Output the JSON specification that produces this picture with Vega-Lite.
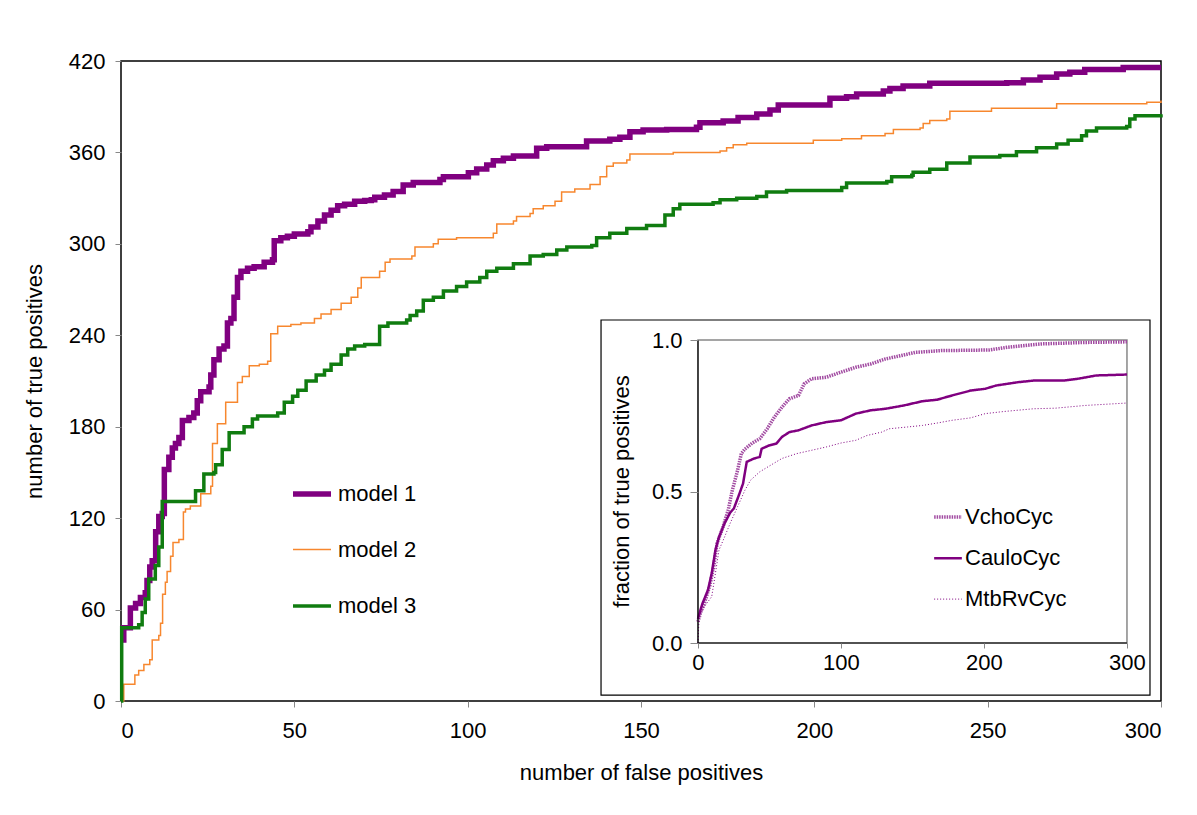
{
  "$schema": "https://vega.github.io/schema/vega-lite/v6.json",
  "width": 1040,
  "height": 640,
  "autosize": {"type": "none"},
  "padding": {"left": 121, "top": 61, "right": 36, "bottom": 114},
  "background": "white",
  "config": {
    "font": "Liberation Sans",
    "view": {"stroke": "black", "strokeWidth": 1.5},
    "axis": {"labelFontSize": 22, "titleFontSize": 22, "labelColor": "black", "titleColor": "black", "titleFontWeight": "normal", "tickColor": "#888", "grid": false, "domain": false, "labelFont": "Liberation Sans", "titleFont": "Liberation Sans"},
    "legend": {"labelFontSize": 22, "labelColor": "black", "labelFont": "Liberation Sans", "padding": 0, "labelLimit": 400}
  },
  "datasets": {
    "main": [
      {"model": "model 1", "fp": 0, "tp": 40}, {"model": "model 1", "fp": 0.8, "tp": 48}, {"model": "model 1", "fp": 2.7, "tp": 61}, {"model": "model 1", "fp": 4.2, "tp": 64}, {"model": "model 1", "fp": 5.6, "tp": 68}, {"model": "model 1", "fp": 7, "tp": 71}, {"model": "model 1", "fp": 7.5, "tp": 79}, {"model": "model 1", "fp": 8.3, "tp": 88}, {"model": "model 1", "fp": 9, "tp": 92}, {"model": "model 1", "fp": 10, "tp": 111}, {"model": "model 1", "fp": 10.9, "tp": 121}, {"model": "model 1", "fp": 11.9, "tp": 123}, {"model": "model 1", "fp": 12.5, "tp": 152}, {"model": "model 1", "fp": 13.8, "tp": 160}, {"model": "model 1", "fp": 14.8, "tp": 166}, {"model": "model 1", "fp": 15.7, "tp": 169}, {"model": "model 1", "fp": 16.7, "tp": 173}, {"model": "model 1", "fp": 17.7, "tp": 184}, {"model": "model 1", "fp": 19.6, "tp": 186}, {"model": "model 1", "fp": 21, "tp": 189}, {"model": "model 1", "fp": 22, "tp": 197}, {"model": "model 1", "fp": 23, "tp": 203}, {"model": "model 1", "fp": 25.4, "tp": 206}, {"model": "model 1", "fp": 25.9, "tp": 214}, {"model": "model 1", "fp": 26.8, "tp": 224}, {"model": "model 1", "fp": 28.3, "tp": 231}, {"model": "model 1", "fp": 29.7, "tp": 233}, {"model": "model 1", "fp": 30.7, "tp": 248}, {"model": "model 1", "fp": 31.7, "tp": 251}, {"model": "model 1", "fp": 32.6, "tp": 265}, {"model": "model 1", "fp": 33.6, "tp": 278}, {"model": "model 1", "fp": 34.6, "tp": 282}, {"model": "model 1", "fp": 36.5, "tp": 284}, {"model": "model 1", "fp": 38.4, "tp": 285}, {"model": "model 1", "fp": 41.3, "tp": 288}, {"model": "model 1", "fp": 43.7, "tp": 289.5}, {"model": "model 1", "fp": 44.2, "tp": 302}, {"model": "model 1", "fp": 46.1, "tp": 304}, {"model": "model 1", "fp": 48, "tp": 305}, {"model": "model 1", "fp": 50, "tp": 306.5}, {"model": "model 1", "fp": 53.9, "tp": 308}, {"model": "model 1", "fp": 54.8, "tp": 311}, {"model": "model 1", "fp": 56.8, "tp": 315}, {"model": "model 1", "fp": 58.7, "tp": 319}, {"model": "model 1", "fp": 60.6, "tp": 322}, {"model": "model 1", "fp": 62.5, "tp": 325}, {"model": "model 1", "fp": 64.5, "tp": 326}, {"model": "model 1", "fp": 67.4, "tp": 328}, {"model": "model 1", "fp": 70.3, "tp": 328.5}, {"model": "model 1", "fp": 72.2, "tp": 329}, {"model": "model 1", "fp": 73.2, "tp": 330.6}, {"model": "model 1", "fp": 76, "tp": 332}, {"model": "model 1", "fp": 78.5, "tp": 334.3}, {"model": "model 1", "fp": 81.4, "tp": 338.6}, {"model": "model 1", "fp": 84.3, "tp": 340.2}, {"model": "model 1", "fp": 92, "tp": 342.3}, {"model": "model 1", "fp": 93, "tp": 344}, {"model": "model 1", "fp": 100.2, "tp": 346.7}, {"model": "model 1", "fp": 102.6, "tp": 349.1}, {"model": "model 1", "fp": 105.5, "tp": 351.8}, {"model": "model 1", "fp": 107.4, "tp": 354.6}, {"model": "model 1", "fp": 110.3, "tp": 356.1}, {"model": "model 1", "fp": 113.2, "tp": 357.7}, {"model": "model 1", "fp": 119.9, "tp": 362.7}, {"model": "model 1", "fp": 122.8, "tp": 363.8}, {"model": "model 1", "fp": 134.3, "tp": 367.5}, {"model": "model 1", "fp": 141, "tp": 368.6}, {"model": "model 1", "fp": 143.9, "tp": 369.9}, {"model": "model 1", "fp": 146.8, "tp": 373.6}, {"model": "model 1", "fp": 150.6, "tp": 374.7}, {"model": "model 1", "fp": 157.4, "tp": 375.1}, {"model": "model 1", "fp": 166, "tp": 376.5}, {"model": "model 1", "fp": 167, "tp": 379.5}, {"model": "model 1", "fp": 173.7, "tp": 380.6}, {"model": "model 1", "fp": 178, "tp": 383}, {"model": "model 1", "fp": 183.4, "tp": 385.2}, {"model": "model 1", "fp": 187.2, "tp": 387.8}, {"model": "model 1", "fp": 189.6, "tp": 391.1}, {"model": "model 1", "fp": 204.5, "tp": 395.5}, {"model": "model 1", "fp": 209.3, "tp": 396.6}, {"model": "model 1", "fp": 212.2, "tp": 398.3}, {"model": "model 1", "fp": 219.9, "tp": 400.3}, {"model": "model 1", "fp": 221.8, "tp": 402}, {"model": "model 1", "fp": 225.6, "tp": 403.6}, {"model": "model 1", "fp": 233.3, "tp": 405.4}, {"model": "model 1", "fp": 255.5, "tp": 405.8}, {"model": "model 1", "fp": 260.3, "tp": 407.5}, {"model": "model 1", "fp": 265.1, "tp": 409.3}, {"model": "model 1", "fp": 269.9, "tp": 411.5}, {"model": "model 1", "fp": 273.7, "tp": 412.6}, {"model": "model 1", "fp": 278, "tp": 414.5}, {"model": "model 1", "fp": 289.1, "tp": 415.8}, {"model": "model 1", "fp": 300, "tp": 415.8},
      {"model": "model 2", "fp": 0, "tp": 0}, {"model": "model 2", "fp": 0.8, "tp": 11}, {"model": "model 2", "fp": 4, "tp": 17}, {"model": "model 2", "fp": 5.1, "tp": 20}, {"model": "model 2", "fp": 6.6, "tp": 24}, {"model": "model 2", "fp": 8.3, "tp": 27}, {"model": "model 2", "fp": 9, "tp": 40}, {"model": "model 2", "fp": 10.9, "tp": 43}, {"model": "model 2", "fp": 11.4, "tp": 51}, {"model": "model 2", "fp": 12, "tp": 70}, {"model": "model 2", "fp": 12.8, "tp": 78}, {"model": "model 2", "fp": 13.3, "tp": 85}, {"model": "model 2", "fp": 14.3, "tp": 95}, {"model": "model 2", "fp": 15, "tp": 104}, {"model": "model 2", "fp": 16.7, "tp": 106}, {"model": "model 2", "fp": 18, "tp": 124}, {"model": "model 2", "fp": 18.6, "tp": 126}, {"model": "model 2", "fp": 20, "tp": 128}, {"model": "model 2", "fp": 23, "tp": 136}, {"model": "model 2", "fp": 25.9, "tp": 141}, {"model": "model 2", "fp": 26.4, "tp": 169}, {"model": "model 2", "fp": 27.8, "tp": 182}, {"model": "model 2", "fp": 30.2, "tp": 196}, {"model": "model 2", "fp": 33.6, "tp": 209}, {"model": "model 2", "fp": 35, "tp": 213}, {"model": "model 2", "fp": 37, "tp": 220}, {"model": "model 2", "fp": 39.9, "tp": 221}, {"model": "model 2", "fp": 42.3, "tp": 223}, {"model": "model 2", "fp": 43.2, "tp": 241}, {"model": "model 2", "fp": 45.2, "tp": 246}, {"model": "model 2", "fp": 49, "tp": 247}, {"model": "model 2", "fp": 51.9, "tp": 248}, {"model": "model 2", "fp": 55.8, "tp": 251}, {"model": "model 2", "fp": 57.7, "tp": 254}, {"model": "model 2", "fp": 60.6, "tp": 257}, {"model": "model 2", "fp": 63.5, "tp": 261}, {"model": "model 2", "fp": 66.4, "tp": 265}, {"model": "model 2", "fp": 68.3, "tp": 271}, {"model": "model 2", "fp": 69.3, "tp": 278}, {"model": "model 2", "fp": 74.6, "tp": 282}, {"model": "model 2", "fp": 76.2, "tp": 288}, {"model": "model 2", "fp": 77.6, "tp": 290}, {"model": "model 2", "fp": 83.9, "tp": 292}, {"model": "model 2", "fp": 84.8, "tp": 298}, {"model": "model 2", "fp": 90.1, "tp": 300}, {"model": "model 2", "fp": 91.5, "tp": 303}, {"model": "model 2", "fp": 96.8, "tp": 304}, {"model": "model 2", "fp": 107.4, "tp": 307}, {"model": "model 2", "fp": 108.4, "tp": 313}, {"model": "model 2", "fp": 113.2, "tp": 315}, {"model": "model 2", "fp": 114.1, "tp": 318}, {"model": "model 2", "fp": 118, "tp": 320}, {"model": "model 2", "fp": 118.9, "tp": 323}, {"model": "model 2", "fp": 121.8, "tp": 325}, {"model": "model 2", "fp": 125.2, "tp": 328}, {"model": "model 2", "fp": 127.1, "tp": 334}, {"model": "model 2", "fp": 130.9, "tp": 336}, {"model": "model 2", "fp": 135.3, "tp": 339}, {"model": "model 2", "fp": 138.2, "tp": 344}, {"model": "model 2", "fp": 140.1, "tp": 351}, {"model": "model 2", "fp": 142, "tp": 353}, {"model": "model 2", "fp": 145.9, "tp": 355}, {"model": "model 2", "fp": 146.8, "tp": 359}, {"model": "model 2", "fp": 159.3, "tp": 360}, {"model": "model 2", "fp": 172.8, "tp": 361}, {"model": "model 2", "fp": 174.7, "tp": 363}, {"model": "model 2", "fp": 176.6, "tp": 365}, {"model": "model 2", "fp": 180.5, "tp": 366}, {"model": "model 2", "fp": 199.7, "tp": 368}, {"model": "model 2", "fp": 207.9, "tp": 369}, {"model": "model 2", "fp": 213.6, "tp": 371}, {"model": "model 2", "fp": 220.4, "tp": 372.5}, {"model": "model 2", "fp": 222.8, "tp": 375}, {"model": "model 2", "fp": 230.5, "tp": 376}, {"model": "model 2", "fp": 231.4, "tp": 379}, {"model": "model 2", "fp": 233.3, "tp": 381}, {"model": "model 2", "fp": 238.2, "tp": 382}, {"model": "model 2", "fp": 239.1, "tp": 387}, {"model": "model 2", "fp": 251.1, "tp": 389}, {"model": "model 2", "fp": 269.9, "tp": 392}, {"model": "model 2", "fp": 295.9, "tp": 393}, {"model": "model 2", "fp": 300, "tp": 394},
      {"model": "model 3", "fp": 0, "tp": 0}, {"model": "model 3", "fp": 0.2, "tp": 48}, {"model": "model 3", "fp": 5.1, "tp": 50}, {"model": "model 3", "fp": 6.1, "tp": 58}, {"model": "model 3", "fp": 7, "tp": 67}, {"model": "model 3", "fp": 8, "tp": 80}, {"model": "model 3", "fp": 9.9, "tp": 89}, {"model": "model 3", "fp": 10.9, "tp": 101}, {"model": "model 3", "fp": 11.9, "tp": 131}, {"model": "model 3", "fp": 21, "tp": 131}, {"model": "model 3", "fp": 21.5, "tp": 138}, {"model": "model 3", "fp": 23.9, "tp": 149}, {"model": "model 3", "fp": 26.8, "tp": 150}, {"model": "model 3", "fp": 27.3, "tp": 155}, {"model": "model 3", "fp": 29.2, "tp": 165}, {"model": "model 3", "fp": 31.2, "tp": 176}, {"model": "model 3", "fp": 34.6, "tp": 176}, {"model": "model 3", "fp": 35.5, "tp": 180}, {"model": "model 3", "fp": 37.9, "tp": 185}, {"model": "model 3", "fp": 39.4, "tp": 187}, {"model": "model 3", "fp": 45.2, "tp": 189}, {"model": "model 3", "fp": 47.1, "tp": 196}, {"model": "model 3", "fp": 49.5, "tp": 200}, {"model": "model 3", "fp": 51, "tp": 204}, {"model": "model 3", "fp": 53.4, "tp": 210}, {"model": "model 3", "fp": 56.3, "tp": 214}, {"model": "model 3", "fp": 58.7, "tp": 217}, {"model": "model 3", "fp": 60.6, "tp": 221}, {"model": "model 3", "fp": 63.5, "tp": 227}, {"model": "model 3", "fp": 65.4, "tp": 231}, {"model": "model 3", "fp": 67.4, "tp": 233}, {"model": "model 3", "fp": 70.3, "tp": 234}, {"model": "model 3", "fp": 74.6, "tp": 246}, {"model": "model 3", "fp": 77, "tp": 248}, {"model": "model 3", "fp": 82.4, "tp": 250}, {"model": "model 3", "fp": 83.4, "tp": 253}, {"model": "model 3", "fp": 85.3, "tp": 256}, {"model": "model 3", "fp": 87.2, "tp": 263}, {"model": "model 3", "fp": 90.1, "tp": 265}, {"model": "model 3", "fp": 93, "tp": 269}, {"model": "model 3", "fp": 96.8, "tp": 272}, {"model": "model 3", "fp": 99.7, "tp": 275}, {"model": "model 3", "fp": 103.5, "tp": 278}, {"model": "model 3", "fp": 105.5, "tp": 282}, {"model": "model 3", "fp": 108.4, "tp": 284}, {"model": "model 3", "fp": 113.2, "tp": 287}, {"model": "model 3", "fp": 118, "tp": 292}, {"model": "model 3", "fp": 121.8, "tp": 293}, {"model": "model 3", "fp": 125.7, "tp": 296}, {"model": "model 3", "fp": 128.6, "tp": 298}, {"model": "model 3", "fp": 135.8, "tp": 299}, {"model": "model 3", "fp": 137.2, "tp": 304}, {"model": "model 3", "fp": 141, "tp": 307}, {"model": "model 3", "fp": 145.9, "tp": 310}, {"model": "model 3", "fp": 151.6, "tp": 312}, {"model": "model 3", "fp": 156.9, "tp": 319}, {"model": "model 3", "fp": 159.3, "tp": 323}, {"model": "model 3", "fp": 161.2, "tp": 326}, {"model": "model 3", "fp": 170.8, "tp": 327}, {"model": "model 3", "fp": 172.8, "tp": 329}, {"model": "model 3", "fp": 177.6, "tp": 330}, {"model": "model 3", "fp": 183.4, "tp": 331}, {"model": "model 3", "fp": 186.2, "tp": 334}, {"model": "model 3", "fp": 192, "tp": 335}, {"model": "model 3", "fp": 207.9, "tp": 337}, {"model": "model 3", "fp": 209.3, "tp": 340}, {"model": "model 3", "fp": 220.9, "tp": 341}, {"model": "model 3", "fp": 222.3, "tp": 344}, {"model": "model 3", "fp": 228.1, "tp": 345}, {"model": "model 3", "fp": 228.5, "tp": 347}, {"model": "model 3", "fp": 233.3, "tp": 349}, {"model": "model 3", "fp": 238.2, "tp": 353}, {"model": "model 3", "fp": 244.9, "tp": 357}, {"model": "model 3", "fp": 253.5, "tp": 358}, {"model": "model 3", "fp": 258.3, "tp": 360.5}, {"model": "model 3", "fp": 264.1, "tp": 363}, {"model": "model 3", "fp": 269.9, "tp": 365.5}, {"model": "model 3", "fp": 273.2, "tp": 368}, {"model": "model 3", "fp": 277.1, "tp": 371}, {"model": "model 3", "fp": 278.5, "tp": 374}, {"model": "model 3", "fp": 281.4, "tp": 376}, {"model": "model 3", "fp": 290.1, "tp": 377}, {"model": "model 3", "fp": 291, "tp": 382}, {"model": "model 3", "fp": 292.5, "tp": 384}, {"model": "model 3", "fp": 300, "tp": 385}
    ],
    "inset": [
      {"genome": "VchoCyc", "fp": 0, "frac": 0.07}, {"genome": "VchoCyc", "fp": 1.8, "frac": 0.1}, {"genome": "VchoCyc", "fp": 4.4, "frac": 0.13}, {"genome": "VchoCyc", "fp": 8.3, "frac": 0.19}, {"genome": "VchoCyc", "fp": 10.9, "frac": 0.25}, {"genome": "VchoCyc", "fp": 13.4, "frac": 0.33}, {"genome": "VchoCyc", "fp": 17.3, "frac": 0.38}, {"genome": "VchoCyc", "fp": 21.2, "frac": 0.44}, {"genome": "VchoCyc", "fp": 23.8, "frac": 0.5}, {"genome": "VchoCyc", "fp": 27.7, "frac": 0.57}, {"genome": "VchoCyc", "fp": 30.3, "frac": 0.625}, {"genome": "VchoCyc", "fp": 32.8, "frac": 0.64}, {"genome": "VchoCyc", "fp": 38, "frac": 0.66}, {"genome": "VchoCyc", "fp": 43.2, "frac": 0.674}, {"genome": "VchoCyc", "fp": 48.4, "frac": 0.707}, {"genome": "VchoCyc", "fp": 53.5, "frac": 0.746}, {"genome": "VchoCyc", "fp": 58.7, "frac": 0.778}, {"genome": "VchoCyc", "fp": 63.9, "frac": 0.806}, {"genome": "VchoCyc", "fp": 70.3, "frac": 0.817}, {"genome": "VchoCyc", "fp": 74.2, "frac": 0.855}, {"genome": "VchoCyc", "fp": 79.4, "frac": 0.872}, {"genome": "VchoCyc", "fp": 89.7, "frac": 0.877}, {"genome": "VchoCyc", "fp": 100, "frac": 0.894}, {"genome": "VchoCyc", "fp": 110.4, "frac": 0.91}, {"genome": "VchoCyc", "fp": 120.8, "frac": 0.921}, {"genome": "VchoCyc", "fp": 131.1, "frac": 0.9375}, {"genome": "VchoCyc", "fp": 141.5, "frac": 0.948}, {"genome": "VchoCyc", "fp": 151.8, "frac": 0.959}, {"genome": "VchoCyc", "fp": 169.9, "frac": 0.965}, {"genome": "VchoCyc", "fp": 203.5, "frac": 0.967}, {"genome": "VchoCyc", "fp": 216.4, "frac": 0.976}, {"genome": "VchoCyc", "fp": 239.7, "frac": 0.987}, {"genome": "VchoCyc", "fp": 270.8, "frac": 0.992}, {"genome": "VchoCyc", "fp": 300, "frac": 0.994},
      {"genome": "CauloCyc", "fp": 0, "frac": 0.08}, {"genome": "CauloCyc", "fp": 1.8, "frac": 0.11}, {"genome": "CauloCyc", "fp": 3.1, "frac": 0.13}, {"genome": "CauloCyc", "fp": 7, "frac": 0.175}, {"genome": "CauloCyc", "fp": 9.6, "frac": 0.23}, {"genome": "CauloCyc", "fp": 12.2, "frac": 0.307}, {"genome": "CauloCyc", "fp": 14.7, "frac": 0.35}, {"genome": "CauloCyc", "fp": 18.6, "frac": 0.395}, {"genome": "CauloCyc", "fp": 22.5, "frac": 0.43}, {"genome": "CauloCyc", "fp": 25.1, "frac": 0.444}, {"genome": "CauloCyc", "fp": 29, "frac": 0.493}, {"genome": "CauloCyc", "fp": 31.5, "frac": 0.526}, {"genome": "CauloCyc", "fp": 34.1, "frac": 0.598}, {"genome": "CauloCyc", "fp": 39.3, "frac": 0.609}, {"genome": "CauloCyc", "fp": 43.2, "frac": 0.614}, {"genome": "CauloCyc", "fp": 44.5, "frac": 0.641}, {"genome": "CauloCyc", "fp": 49.7, "frac": 0.652}, {"genome": "CauloCyc", "fp": 54.8, "frac": 0.658}, {"genome": "CauloCyc", "fp": 58.7, "frac": 0.68}, {"genome": "CauloCyc", "fp": 63.9, "frac": 0.696}, {"genome": "CauloCyc", "fp": 70.3, "frac": 0.702}, {"genome": "CauloCyc", "fp": 79.4, "frac": 0.718}, {"genome": "CauloCyc", "fp": 89.7, "frac": 0.729}, {"genome": "CauloCyc", "fp": 100, "frac": 0.735}, {"genome": "CauloCyc", "fp": 110.4, "frac": 0.757}, {"genome": "CauloCyc", "fp": 120.8, "frac": 0.768}, {"genome": "CauloCyc", "fp": 131.1, "frac": 0.773}, {"genome": "CauloCyc", "fp": 144, "frac": 0.784}, {"genome": "CauloCyc", "fp": 157, "frac": 0.798}, {"genome": "CauloCyc", "fp": 167.3, "frac": 0.803}, {"genome": "CauloCyc", "fp": 177.7, "frac": 0.817}, {"genome": "CauloCyc", "fp": 190.6, "frac": 0.833}, {"genome": "CauloCyc", "fp": 200.9, "frac": 0.839}, {"genome": "CauloCyc", "fp": 208.7, "frac": 0.85}, {"genome": "CauloCyc", "fp": 224.2, "frac": 0.861}, {"genome": "CauloCyc", "fp": 234.5, "frac": 0.866}, {"genome": "CauloCyc", "fp": 255.2, "frac": 0.866}, {"genome": "CauloCyc", "fp": 265.6, "frac": 0.872}, {"genome": "CauloCyc", "fp": 278.5, "frac": 0.883}, {"genome": "CauloCyc", "fp": 300, "frac": 0.886},
      {"genome": "MtbRvCyc", "fp": 0, "frac": 0}, {"genome": "MtbRvCyc", "fp": 0.8, "frac": 0.088}, {"genome": "MtbRvCyc", "fp": 4.4, "frac": 0.12}, {"genome": "MtbRvCyc", "fp": 9.6, "frac": 0.153}, {"genome": "MtbRvCyc", "fp": 12.2, "frac": 0.23}, {"genome": "MtbRvCyc", "fp": 14.7, "frac": 0.307}, {"genome": "MtbRvCyc", "fp": 18.6, "frac": 0.35}, {"genome": "MtbRvCyc", "fp": 22.5, "frac": 0.395}, {"genome": "MtbRvCyc", "fp": 27.7, "frac": 0.45}, {"genome": "MtbRvCyc", "fp": 32.8, "frac": 0.504}, {"genome": "MtbRvCyc", "fp": 36.7, "frac": 0.537}, {"genome": "MtbRvCyc", "fp": 43.2, "frac": 0.565}, {"genome": "MtbRvCyc", "fp": 50.9, "frac": 0.587}, {"genome": "MtbRvCyc", "fp": 58.7, "frac": 0.609}, {"genome": "MtbRvCyc", "fp": 69, "frac": 0.625}, {"genome": "MtbRvCyc", "fp": 79.4, "frac": 0.636}, {"genome": "MtbRvCyc", "fp": 89.7, "frac": 0.647}, {"genome": "MtbRvCyc", "fp": 100, "frac": 0.66}, {"genome": "MtbRvCyc", "fp": 110.4, "frac": 0.669}, {"genome": "MtbRvCyc", "fp": 118.2, "frac": 0.685}, {"genome": "MtbRvCyc", "fp": 128.5, "frac": 0.696}, {"genome": "MtbRvCyc", "fp": 133.7, "frac": 0.707}, {"genome": "MtbRvCyc", "fp": 146.6, "frac": 0.713}, {"genome": "MtbRvCyc", "fp": 157, "frac": 0.718}, {"genome": "MtbRvCyc", "fp": 167.3, "frac": 0.726}, {"genome": "MtbRvCyc", "fp": 177.7, "frac": 0.735}, {"genome": "MtbRvCyc", "fp": 190.6, "frac": 0.743}, {"genome": "MtbRvCyc", "fp": 200.9, "frac": 0.757}, {"genome": "MtbRvCyc", "fp": 213.9, "frac": 0.764}, {"genome": "MtbRvCyc", "fp": 234.5, "frac": 0.773}, {"genome": "MtbRvCyc", "fp": 250, "frac": 0.775}, {"genome": "MtbRvCyc", "fp": 270.8, "frac": 0.784}, {"genome": "MtbRvCyc", "fp": 300, "frac": 0.792}
    ],
    "one": [{}]
  },
  "layer": [
    {
      "data": {"name": "main"},
      "mark": {"type": "line", "interpolate": "step-after", "strokeJoin": "miter"},
      "encoding": {
        "x": {"field": "fp", "type": "quantitative", "scale": {"domain": [0, 300], "nice": false, "zero": false},
              "axis": {"values": [0, 50, 100, 150, 200, 250, 300], "title": "number of false positives", "tickSize": 6, "labelPadding": 13, "titlePadding": 21}},
        "y": {"field": "tp", "type": "quantitative", "scale": {"domain": [0, 420], "nice": false},
              "axis": {"values": [0, 60, 120, 180, 240, 300, 360, 420], "title": "number of true positives", "tickSize": 6, "labelPadding": 10, "titlePadding": 22}},
        "color": {"field": "model", "type": "nominal", "scale": {"type": "ordinal", "domain": ["model 1", "model 2", "model 3"], "range": ["#800080", "#F7872E", "#107C10"]},
                  "legend": {"title": null, "orient": "none", "legendX": 169, "legendY": 411, "symbolType": "stroke", "symbolSize": 1444, "rowPadding": 24.5, "labelOffset": 4}},
        "strokeWidth": {"field": "model", "type": "nominal", "scale": {"type": "ordinal", "domain": ["model 1", "model 2", "model 3"], "range": [5.5, 1.5, 3.5]},
                  "legend": {"title": null, "orient": "none", "legendX": 169, "legendY": 411, "symbolType": "stroke", "symbolSize": 1444, "rowPadding": 24.5, "labelOffset": 4}}
      }
    },
    {
      "data": {"name": "one"},
      "mark": {"type": "rect", "fill": "white", "stroke": "black", "strokeWidth": 1.2},
      "encoding": {
        "x": {"datum": -67.8, "type": "quantitative", "scale": {"domain": [-403.5, 323.8], "nice": false, "zero": false}, "axis": null},
        "x2": {"datum": 316.1},
        "y": {"datum": 1.066, "type": "quantitative", "scale": {"domain": [-0.1914, 1.9208], "nice": false, "zero": false}, "axis": null},
        "y2": {"datum": -0.172}
      }
    },
    {
      "data": {"name": "one"},
      "mark": {"type": "rect", "fill": null, "stroke": "#888", "strokeWidth": 1.5},
      "encoding": {
        "x": {"datum": 0, "type": "quantitative", "scale": {"domain": [-403.5, 323.8], "nice": false, "zero": false}, "axis": null},
        "x2": {"datum": 300},
        "y": {"datum": 0, "type": "quantitative", "scale": {"domain": [-0.1914, 1.9208], "nice": false, "zero": false}, "axis": null},
        "y2": {"datum": 1}
      }
    },
    {
      "data": {"name": "inset"},
      "mark": {"type": "line"},
      "encoding": {
        "x": {"field": "fp", "type": "quantitative", "scale": {"domain": [-403.5, 323.8], "nice": false, "zero": false},
              "axis": {"orient": "bottom", "offset": -58, "zindex": 2, "values": [0, 100, 200, 300], "title": null, "tickSize": 5, "labelPadding": 4}},
        "y": {"field": "frac", "type": "quantitative", "scale": {"domain": [-0.1914, 1.9208], "nice": false, "zero": false},
              "axis": {"orient": "left", "offset": -577, "zindex": 2, "values": [0, 0.5, 1], "format": ".1f", "title": "fraction of true positives", "titleY": 430, "tickSize": 8, "labelPadding": 8, "titlePadding": 18}},
        "color": {"field": "genome", "type": "nominal", "scale": {"type": "ordinal", "domain": ["VchoCyc", "CauloCyc", "MtbRvCyc"], "range": ["#a24ca2", "#800080", "#800080"]},
                  "legend": {"title": null, "orient": "none", "legendX": 811, "legendY": 440, "symbolType": "stroke", "symbolSize": 767, "rowPadding": 14.8, "labelOffset": 1}},
        "strokeWidth": {"field": "genome", "type": "nominal", "scale": {"type": "ordinal", "domain": ["VchoCyc", "CauloCyc", "MtbRvCyc"], "range": [3.5, 2.5, 1]},
                  "legend": {"title": null, "orient": "none", "legendX": 811, "legendY": 440, "symbolType": "stroke", "symbolSize": 767, "rowPadding": 14.8, "labelOffset": 1}},
        "strokeDash": {"field": "genome", "type": "nominal", "scale": {"type": "ordinal", "domain": ["VchoCyc", "CauloCyc", "MtbRvCyc"], "range": [[1.5, 1], [1, 0], [1, 2]]},
                  "legend": {"title": null, "orient": "none", "legendX": 811, "legendY": 440, "symbolType": "stroke", "symbolSize": 767, "rowPadding": 14.8, "labelOffset": 1}}
      }
    },
    {
      "data": {"name": "one"},
      "mark": {"type": "rule", "color": "black", "strokeWidth": 1.2},
      "encoding": {
        "x": {"datum": 0, "type": "quantitative", "scale": {"domain": [-403.5, 323.8], "nice": false, "zero": false}, "axis": null},
        "x2": {"datum": 300},
        "y": {"datum": 0, "type": "quantitative", "scale": {"domain": [-0.1914, 1.9208], "nice": false, "zero": false}, "axis": null}
      }
    },
    {
      "data": {"name": "one"},
      "mark": {"type": "rule", "color": "black", "strokeWidth": 1.2},
      "encoding": {
        "x": {"datum": 0, "type": "quantitative", "scale": {"domain": [-403.5, 323.8], "nice": false, "zero": false}, "axis": null},
        "y": {"datum": 0, "type": "quantitative", "scale": {"domain": [-0.1914, 1.9208], "nice": false, "zero": false}, "axis": null},
        "y2": {"datum": 1}
      }
    }
  ],
  "resolve": {"scale": {"x": "independent", "y": "independent", "color": "independent", "strokeWidth": "independent", "strokeDash": "independent"}}
}
